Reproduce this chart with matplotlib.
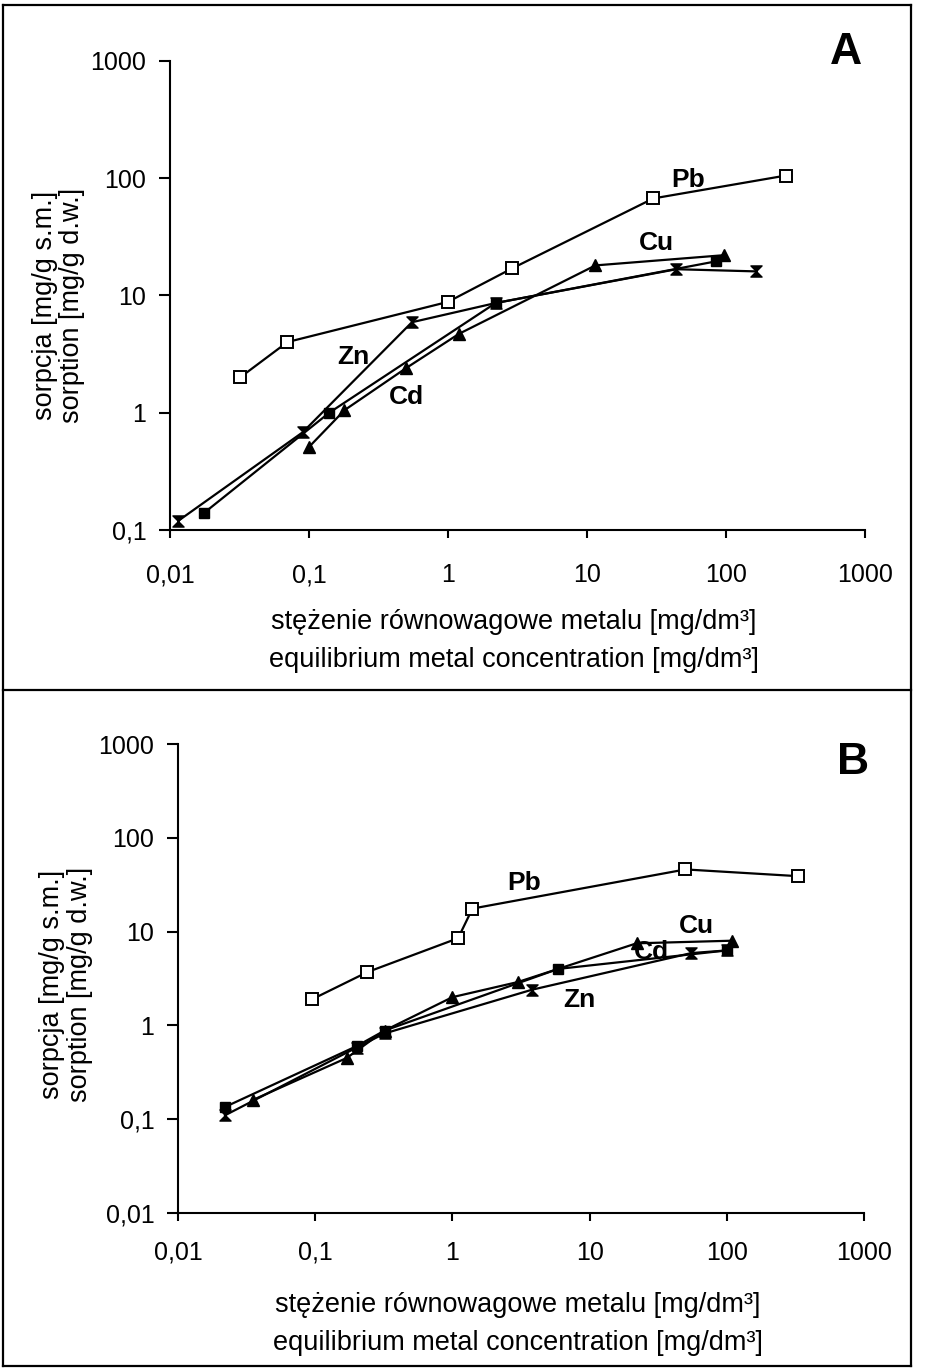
import matplotlib
matplotlib.use("Agg")
import matplotlib.pyplot as plt
from matplotlib.lines import Line2D
from matplotlib.path import Path
import numpy as np

plt.rcParams['font.family'] = ['Liberation Sans', 'DejaVu Sans']

# ---------------- data ----------------
x_ticks = [0.01, 0.1, 1, 10, 100, 1000]
x_ticklabels = ["0,01", "0,1", "1", "10", "100", "1000"]
yA_ticks = [0.1, 1, 10, 100, 1000]
yA_ticklabels = ["0,1", "1", "10", "100", "1000"]
yB_ticks = [0.01, 0.1, 1, 10, 100, 1000]
yB_ticklabels = ["0,01", "0,1", "1", "10", "100", "1000"]

# Panel A
A_pb_x = [0.032, 0.07, 1.0, 2.9, 30, 270]
A_pb_y = [2.0, 4.0, 8.8, 17, 67, 105]
A_cu_x = [0.1, 0.18, 0.5, 1.2, 11.5, 97]
A_cu_y = [0.51, 1.05, 2.4, 4.7, 18, 22]
A_cd_x = [0.0176, 0.14, 2.2, 85]
A_cd_y = [0.14, 1.0, 8.6, 19.5]
A_zn_x = [0.0115, 0.09, 0.55, 2.2, 44, 165]
A_zn_y = [0.12, 0.68, 5.9, 8.6, 16.7, 16]

# Panel B
B_pb_x = [0.095, 0.24, 1.1, 1.4, 50, 330]
B_pb_y = [1.9, 3.7, 8.5, 17.6, 46, 39]
B_cu_x = [0.035, 0.17, 0.32, 1.0, 3.0, 22, 110]
B_cu_y = [0.16, 0.45, 0.88, 2.0, 2.9, 7.5, 8.0]
B_cd_x = [0.022, 0.2, 0.32, 5.9, 100]
B_cd_y = [0.135, 0.6, 0.88, 4.0, 6.3]
B_zn_x = [0.022, 0.2, 0.32, 3.8, 55, 100]
B_zn_y = [0.11, 0.58, 0.82, 2.4, 5.9, 6.3]

series_names = ["Pb", "Cu", "Cd", "Zn"]
A_label_pos = {"Pb": (53, 96), "Cu": (31.7, 28), "Zn": (0.208, 2.98), "Cd": (0.50, 1.36)}
B_label_pos = {"Pb": (3.33, 32.9), "Cu": (60, 11.4), "Cd": (28.2, 6.03), "Zn": (8.4, 1.85)}

xlabel1 = "stężenie równowagowe metalu [mg/dm³]"
xlabel2 = "equilibrium metal concentration [mg/dm³]"
ylabel1 = "sorpcja [mg/g s.m.]"
ylabel2 = "sorption [mg/g d.w.]"

# ---------------- figure ----------------
W, H = 926, 1370
fig = plt.figure(figsize=(W / 100, H / 100), dpi=100)
fig.patch.set_facecolor("white")


def fx(px):
    return px / W


def fy(py):
    return 1 - py / H


hourglass = Path([(-1, 1), (1, 1), (-1, -1), (1, -1), (-1, 1)],
                 [Path.MOVETO, Path.LINETO, Path.LINETO, Path.LINETO, Path.CLOSEPOLY])

styles = {
    "Pb": dict(marker="s", markersize=9, markerfacecolor="white", markeredgecolor="black", markeredgewidth=1.4),
    "Cu": dict(marker="^", markersize=8, markerfacecolor="black", markeredgecolor="black"),
    "Cd": dict(marker="s", markersize=7, markerfacecolor="black", markeredgecolor="black"),
    "Zn": dict(marker=hourglass, markersize=8, markerfacecolor="black", markeredgecolor="black"),
}


def setup_axes(rect, yticks, yticklabels, ylim, xpad):
    ax = fig.add_axes(rect)
    ax.set_xscale("log")
    ax.set_yscale("log")
    ax.set_xlim(0.01, 1000)
    ax.set_ylim(*ylim)
    for s in ["top", "right"]:
        ax.spines[s].set_visible(False)
    for s in ["left", "bottom"]:
        ax.spines[s].set_linewidth(1.5)
    ax.set_xticks(x_ticks)
    ax.set_xticklabels(x_ticklabels)
    ax.set_yticks(yticks)
    ax.set_yticklabels(yticklabels)
    ax.minorticks_off()
    ax.tick_params(axis="x", length=6, width=1.5, pad=xpad, labelsize=18)
    ax.tick_params(axis="y", length=8, width=1.5, pad=9, labelsize=18)
    ax.patch.set_alpha(0)
    return ax


def draw(ax, data, labels):
    for name in series_names:
        xs, ys = data[name]
        ax.plot(xs, ys, color="black", lw=1.6, **styles[name], zorder=3)
    for name, (lx, ly) in labels.items():
        ax.text(lx, ly, name, fontsize=19, fontweight="bold", ha="center", va="center", zorder=4)


# Panel A
axA = setup_axes([fx(170), fy(530), fx(865) - fx(170), fy(60.7) - fy(530)],
                 yA_ticks, yA_ticklabels, (0.1, 1000), 18)
draw(axA, {"Pb": (A_pb_x, A_pb_y), "Cu": (A_cu_x, A_cu_y),
           "Cd": (A_cd_x, A_cd_y), "Zn": (A_zn_x, A_zn_y)}, A_label_pos)

# Panel B
axB = setup_axes([fx(178), fy(1213), fx(864) - fx(178), fy(744) - fy(1213)],
                 yB_ticks, yB_ticklabels, (0.01, 1000), 14)
draw(axB, {"Pb": (B_pb_x, B_pb_y), "Cu": (B_cu_x, B_cu_y),
           "Cd": (B_cd_x, B_cd_y), "Zn": (B_zn_x, B_zn_y)}, B_label_pos)

# Panel letters
fig.text(fx(846), fy(52), "A", fontsize=32, fontweight="bold", ha="center", va="center")
fig.text(fx(853), fy(762), "B", fontsize=32, fontweight="bold", ha="center", va="center")

# Axis titles
for (y1, y2, xc) in [(622, 660, 514), (1305, 1343, 518)]:
    fig.text(fx(xc), fy(y1), xlabel1, fontsize=19.5, ha="center", va="center")
    fig.text(fx(xc), fy(y2), xlabel2, fontsize=19.5, ha="center", va="center")
for (x1, x2, yc) in [(45, 72, 305), (52, 80, 984)]:
    fig.text(fx(x1), fy(yc), ylabel1, fontsize=19.5, rotation=90, ha="center", va="center")
    fig.text(fx(x2), fy(yc), ylabel2, fontsize=19.5, rotation=90, ha="center", va="center")

# Frame
frame_lines = [
    ((3, 911), (5, 5)),
    ((3, 911), (690, 690)),
    ((3, 911), (1366, 1366)),
    ((3, 3), (5, 1366)),
    ((911, 911), (5, 1366)),
]
for xs, ys in frame_lines:
    fig.add_artist(Line2D([fx(v) for v in xs], [fy(v) for v in ys],
                          transform=fig.transFigure, color="black", lw=1.6))

fig.savefig("out.png", dpi=100, facecolor="white")
